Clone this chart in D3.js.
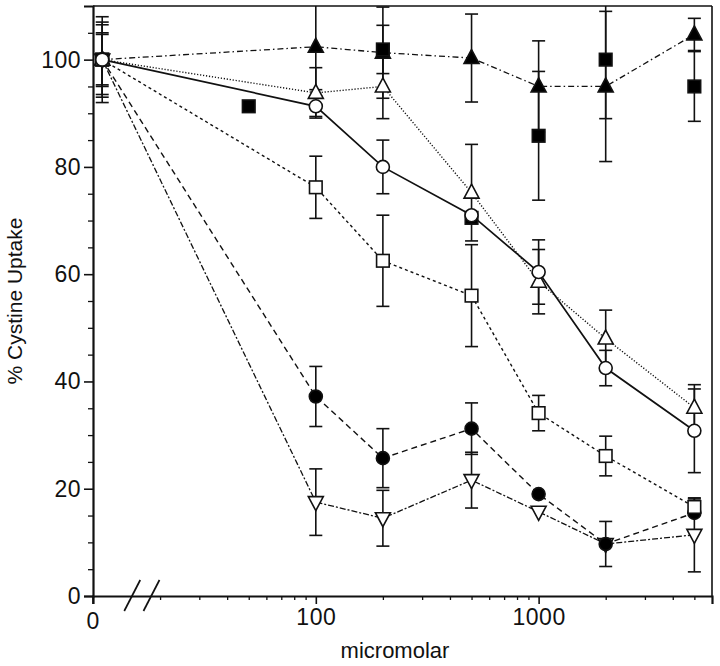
<!DOCTYPE html>
<html>
<head>
<meta charset="utf-8">
<script src="https://cdn.jsdelivr.net/npm/d3@7/dist/d3.min.js"></script>
<style>
  html, body { margin: 0; padding: 0; background: #fff; }
  svg { display: block; }
  text { font-family: "Liberation Sans", Arial, Helvetica, sans-serif; fill: #111; }
</style>
</head>
<body>
<svg id="chart" width="720" height="666"></svg>
<script>
// ---------------- data ----------------
const doses = [0, 100, 200, 500, 1000, 2000, 5000];

const openCircle      = [100, 91.3, 80.0, 71.0, 60.4, 42.5, 30.8];
const openCircleErr   = [4.7, 1.9, 5.0, 0, 6.0, 3.3, 7.8];

const openTriUp       = [100, 93.8, 95.0, 75.2, 58.6, 48.0, 35.1];
const openTriUpErr    = [0, 4.7, 6.0, 9.0, 6.0, 5.3, 4.3];

const filledTriUp     = [100, 102.4, 101.3, 100.3, 95.0, 95.0, 104.7];
const filledTriUpErr  = [5.0, 8.0, 8.5, 8.2, 8.5, 14.0, 3.0];

const filledSquareDoses = [0, 50, 200, 500, 1000, 2000, 5000];
const filledSquare      = [100, 91.3, 101.9, 70.5, 85.8, 100.0, 95.0];
const filledSquareErr   = [0, 0, 4.5, 0, 12.0, 11.0, 6.5];

const openSquare      = [100, 76.2, 62.5, 56.0, 34.1, 26.1, 16.6];
const openSquareErr   = [8.0, 5.8, 8.5, 9.5, 3.3, 3.7, 1.5];

const filledCircle    = [100, 37.2, 25.7, 31.2, 19.0, 9.7, 15.5];
const filledCircleErr = [7.0, 5.6, 5.5, 4.8, 0, 4.2, 0];

const openTriDown     = [100, 17.5, 14.5, 21.6, 15.7, 9.7, 11.4];
const openTriDownErr  = [6.5, 6.2, 5.2, 5.2, 0, 0, 6.9];

const yMajorTicks = [0, 20, 40, 60, 80, 100];
const xMajorTicks = [100, 1000];
const xMinorTicks = [20,30,40,50,60,70,80,90,200,300,400,500,600,700,800,900,2000,3000,4000,5000];
const zeroLabel = "0";
const xTitle = "micromolar";
const yTitle = "% Cystine Uptake";

// ---------------- layout ----------------
const svg = d3.select("#chart");
const L = 93, R = 712, T = 6, B = 596;

const x = d3.scaleLog().domain([10, 6000]).range([L, R]);
const y = d3.scaleLinear().domain([0, 110]).range([B, T]);
const ZERO_DRAWN_AT = 11; // the "0" dose is drawn just right of the axis
const xp = d => d === 0 ? x(ZERO_DRAWN_AT) : x(d);

const series = [
  { name: "openTriDown",  xs: doses, v: openTriDown,  e: openTriDownErr,  shape: "triDown", fill: "#fff", dash: "6,2,2,2", w: 1.3, line: true },
  { name: "filledCircle", xs: doses, v: filledCircle, e: filledCircleErr, shape: "circle",  fill: "#000", dash: "6,4",     w: 1.4, line: true },
  { name: "openSquare",   xs: doses, v: openSquare,   e: openSquareErr,   shape: "square",  fill: "#fff", dash: "3,3",     w: 1.4, line: true },
  { name: "filledTriUp",  xs: doses, v: filledTriUp,  e: filledTriUpErr,  shape: "triUp",   fill: "#000", dash: "6,3,1.5,3", w: 1.3, line: true },
  { name: "filledSquare", xs: filledSquareDoses, v: filledSquare, e: filledSquareErr, shape: "square", fill: "#000", dash: null, w: 1, line: false },
  { name: "openTriUp",    xs: doses, v: openTriUp,    e: openTriUpErr,    shape: "triUp",   fill: "#fff", dash: "1.2,1.8", w: 1.4, line: true },
  { name: "openCircle",   xs: doses, v: openCircle,   e: openCircleErr,   shape: "circle",  fill: "#fff", dash: null,      w: 1.7, line: true },
];

svg.append("defs").append("clipPath").attr("id", "plotclip")
  .append("rect").attr("x", L).attr("y", T).attr("width", R - L).attr("height", B - T);

// ---------------- frame & axes ----------------
const ink = "#111";
const FS = "23px";
svg.append("line").attr("x1", L).attr("x2", R).attr("y1", T).attr("y2", T).attr("stroke", ink).attr("stroke-width", 1.6);
svg.append("line").attr("x1", R).attr("x2", R).attr("y1", T).attr("y2", B).attr("stroke", ink).attr("stroke-width", 1.6);

// Y axis
const yAxis = d3.axisLeft(y).tickValues(yMajorTicks).tickSize(9).tickPadding(3).tickFormat(d3.format("d"));
const gy = svg.append("g").attr("transform", `translate(${L},0)`).call(yAxis);
gy.select(".domain").attr("stroke", ink).attr("stroke-width", 2.2);
gy.selectAll(".tick line").attr("stroke", ink).attr("stroke-width", 1.6);
gy.selectAll(".tick text").style("font-size", FS).attr("fill", ink).attr("letter-spacing", "0.5px");
const yMinor = d3.range(5, 110, 5).filter(v => v % 20 !== 0);
svg.append("g").attr("transform", `translate(${L},0)`).call(d3.axisLeft(y).tickValues(yMinor).tickSize(5).tickFormat(""))
  .call(g => { g.select(".domain").remove(); g.selectAll(".tick line").attr("stroke", ink).attr("stroke-width", 1.3); });

// X axis
const gx = svg.append("g").attr("transform", `translate(0,${B})`)
  .call(d3.axisBottom(x).tickValues(xMajorTicks).tickSize(8).tickPadding(5).tickFormat(d3.format("d")));
gx.select(".domain").attr("stroke", ink).attr("stroke-width", 2.2);
gx.selectAll(".tick line").attr("stroke", ink).attr("stroke-width", 1.6);
gx.selectAll(".tick text").style("font-size", FS).attr("fill", ink).attr("letter-spacing", "0.5px");
svg.append("g").attr("transform", `translate(0,${B})`)
  .call(d3.axisBottom(x).tickValues(xMinorTicks).tickSize(4).tickFormat(""))
  .call(g => { g.select(".domain").remove(); g.selectAll(".tick line").attr("stroke", ink).attr("stroke-width", 1.3); });

// "0" tick at axis origin
svg.append("line").attr("x1", L).attr("x2", L).attr("y1", B).attr("y2", B + 8).attr("stroke", ink).attr("stroke-width", 1.6);
svg.append("text").attr("x", L).attr("y", B + 33).attr("text-anchor", "middle").style("font-size", FS).text(zeroLabel);

// axis break marks
const bk = svg.append("g");
[x(15), x(18.3)].forEach(cx => {
  bk.append("line").attr("x1", cx - 8).attr("y1", B + 15).attr("x2", cx + 8).attr("y2", B - 16)
    .attr("stroke", ink).attr("stroke-width", 1.7);
});

// titles
svg.append("text").attr("x", 395).attr("y", 658).attr("text-anchor", "middle")
  .style("font-size", "22px").text(xTitle);
svg.append("text").attr("transform", `translate(22,${(T + B) / 2}) rotate(-90)`).attr("text-anchor", "middle")
  .style("font-size", "21px").text(yTitle);

// ---------------- marks ----------------
const plot = svg.append("g").attr("clip-path", "url(#plotclip)");

series.filter(s => s.line).forEach(s => {
  const pts = s.xs.map((d, i) => [xp(d), y(s.v[i])]);
  plot.append("path").attr("d", d3.line()(pts)).attr("fill", "none")
    .attr("stroke", ink).attr("stroke-width", s.w)
    .attr("stroke-dasharray", s.dash);
});

const capW = 6.5;
series.forEach(s => {
  s.xs.forEach((d, i) => {
    const e = s.e[i];
    if (!e) return;
    const cx = xp(d), y1 = y(s.v[i] + e), y2 = y(s.v[i] - e);
    plot.append("line").attr("x1", cx).attr("x2", cx).attr("y1", y1).attr("y2", y2).attr("stroke", ink).attr("stroke-width", 1.6);
    [y1, y2].forEach(yy => plot.append("line").attr("x1", cx - capW).attr("x2", cx + capW).attr("y1", yy).attr("y2", yy)
      .attr("stroke", ink).attr("stroke-width", 1.6));
  });
});

function marker(g, shape, cx, cy, fill) {
  const st = sel => sel.attr("fill", fill).attr("stroke", ink).attr("stroke-width", 1.6);
  if (shape === "circle") {
    st(g.append("circle").attr("cx", cx).attr("cy", cy).attr("r", 6.5));
  } else if (shape === "square") {
    st(g.append("rect").attr("x", cx - 6.3).attr("y", cy - 6.3).attr("width", 12.6).attr("height", 12.6));
  } else if (shape === "triUp") {
    st(g.append("path").attr("d", `M${cx},${cy - 8.5}L${cx + 7.5},${cy + 5.5}L${cx - 7.5},${cy + 5.5}Z`));
  } else if (shape === "triDown") {
    st(g.append("path").attr("d", `M${cx},${cy + 8.5}L${cx + 7.5},${cy - 5.5}L${cx - 7.5},${cy - 5.5}Z`));
  }
}
series.forEach(s => {
  s.xs.forEach((d, i) => marker(svg, s.shape, xp(d), y(s.v[i]), s.fill));
});
</script>
</body>
</html>
